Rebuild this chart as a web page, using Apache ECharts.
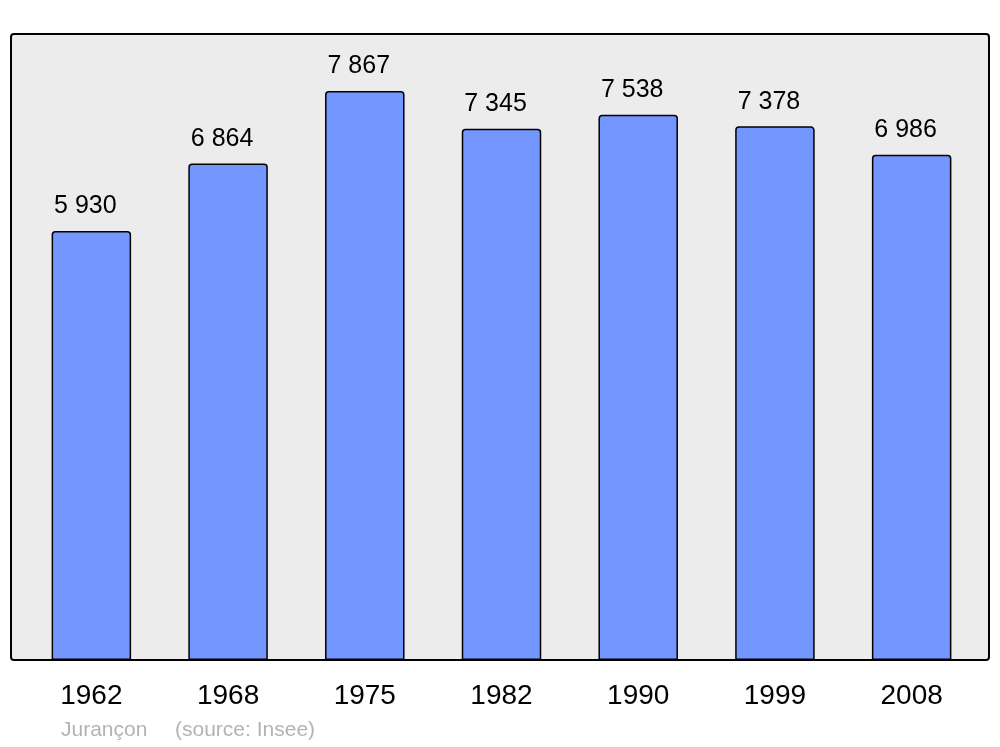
<!DOCTYPE html>
<html><head><meta charset="utf-8">
<script src="https://cdn.jsdelivr.net/npm/echarts@6/dist/echarts.min.js"></script>
<style>html,body{margin:0;padding:0;background:#fff}#c{width:1000px;height:747px}</style>
</head><body><div id="c"></div>
<script>
const years = ['1962','1968','1975','1982','1990','1999','2008'];
const population = [5930, 6864, 7867, 7345, 7538, 7378, 6986];
const placeName = 'Jurançon';
const sourceText = '(source: Insee)';

const fmt = v => String(v).replace(/\B(?=(\d{3})+(?!\d))/g, ' ');
const chart = echarts.init(document.getElementById('c'), null, {renderer:'canvas'});
chart.setOption({
  animation: false,
  backgroundColor: '#ffffff',
  textStyle: {fontFamily: 'Liberation Sans, Arial, sans-serif'},
  graphic: [
    {type:'rect', z:-10, zlevel:0, shape:{x:11,y:34,width:978,height:626,r:3},
     style:{fill:'#ececec', stroke:'#000', lineWidth:2}},
    {type:'text', left:61, top:720, style:{text:placeName, fill:'#b3b3b3', font:'21px "Liberation Sans", Arial, sans-serif'}},
    {type:'text', left:175, top:720, style:{text:sourceText, fill:'#b3b3b3', font:'21px "Liberation Sans", Arial, sans-serif'}}
  ],
  grid: {left:23, right:20, top:34, bottom:87, containLabel:false},
  xAxis: {
    type:'category', data: years,
    axisLine:{show:false}, axisTick:{show:false},
    axisLabel:{color:'#000', fontSize:28, margin:22, fontFamily:'Liberation Sans, Arial, sans-serif', offset:[-2,0]}
  },
  yAxis: {type:'value', min:0, max:8655, show:false, splitLine:{show:false}},
  series: [{
    type:'bar', data: population, barWidth:79.5, z:5,
    itemStyle:{color:'#7396ff', borderColor:'#000', borderWidth:1.5, borderRadius:[3,3,0,0]},
    label:{show:true, position:'top', distance:12, offset:[-6,0], color:'#000', fontSize:25,
      fontFamily:'Liberation Sans, Arial, sans-serif', formatter: p => fmt(p.value)}
  }]
});
</script></body></html>
